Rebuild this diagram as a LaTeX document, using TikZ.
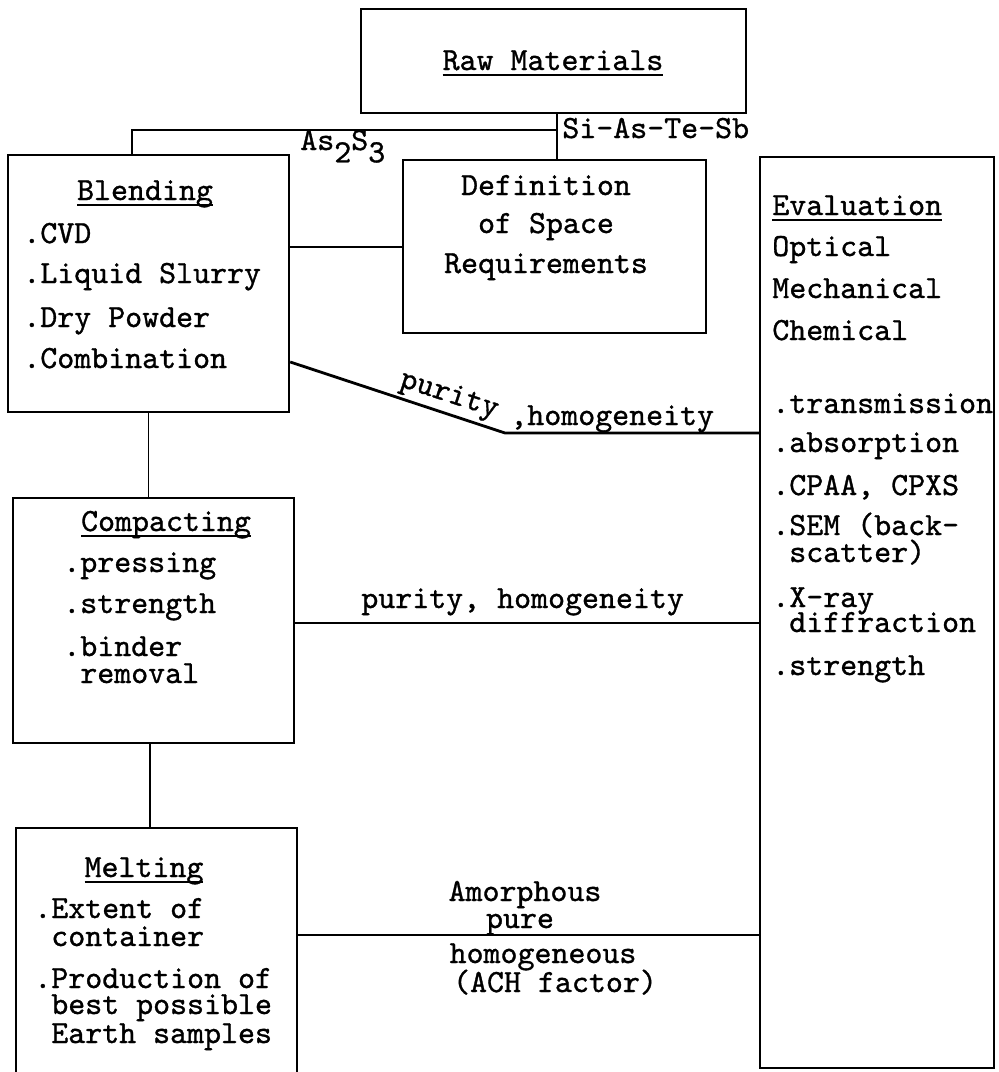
\documentclass[tikz,border=0pt]{standalone}
\usepackage{fontspec}
\newfontfamily\typewr[FakeBold=1]{lmmono10-regular.otf}
\usetikzlibrary{fit,calc}
% underlined heading, rule drawn just below the baseline
\newcommand\headul[1]{\setbox0=\hbox{#1}\rlap{\rule[-3.3pt]{\wd0}{0.9pt}}\box0}
\tikzset{
  box/.style  = {draw, line width=1.4pt, inner sep=0pt},
  wire/.style = {line width=1.1pt},
  item/.style = {anchor=base west, inner sep=0pt},
  head/.style = {anchor=base, inner sep=0pt},
}

\begin{document}
\begin{tikzpicture}[x=0.2mm,y=-0.2mm,font=\typewr\fontsize{18.4pt}{22pt}\selectfont]
  \clip (0,0) rectangle (999,1072);
  % boxes
  \node[box, fit={(361,9) (746,113)}]   (raw)   {};
  \node[box, fit={(8,155) (289,412)}]   (blend) {};
  \node[box, fit={(403,160) (706,333)}] (defn)  {};
  \node[box, fit={(760,157) (994,1068)}] (eval) {};
  \node[box, fit={(13,498) (294,743)}]  (comp)  {};
  \node[box, fit={(16,828) (297,1100)}] (melt)  {};

  % connectors
  \coordinate (hub)  at (557,130);
  \coordinate (hubw) at (132,130);
  \coordinate (bend) at (505,433);
  \coordinate (yd)   at (0,247);
  \coordinate (yp)   at (0,362);
  \coordinate (yc)   at (0,623);
  \coordinate (ym)   at (0,935);
  \coordinate (xc)   at (150,0);
  \draw[wire] (raw.south -| hub) -- (defn.north -| hub);
  \draw[wire] (hub) -- (hubw) -- (hubw |- blend.north);
  \draw[wire] (blend.east |- yd) -- (defn.west |- yd);
  \draw[wire,line width=1.6pt] (blend.east |- yp) -- (bend) -- (bend -| eval.west);
  \draw[wire] (blend.south) -- (blend.south |- comp.north);
  \draw[wire] (comp.east |- yc) -- (eval.west |- yc);
  \draw[wire] (comp.south -| xc) -- (melt.north -| xc);
  \draw[wire] (melt.east |- ym) -- (eval.west |- ym);

  % raw materials
  \node[head] (rawt) at (553,70) {\headul{Raw Materials}};
  \node[item] (si) at (562,138) {Si-As-Te-Sb};
  \node[item] (as) at (300,150) {As\raisebox{-7pt}{2}S\raisebox{-7pt}{3}};

  % blending
  \node[head] (blendt) at (145,200) {\headul{Blending}};
  \node[item] (b1) at (23,243) {.CVD};
  \node[item] (b2) at (23,283) {.Liquid Slurry};
  \node[item] (b3) at (23,327) {.Dry Powder};
  \node[item] (b4) at (23,368) {.Combination};

  % definition
  \node[head] (d1) at (546,195) {Definition};
  \node[head] (d2) at (546,233) {of Space};
  \node[head] (d3) at (546,273) {Requirements};

  % evaluation
  \node[item] (evalt) at (772,215) {\headul{Evaluation}};
  \node[item] (e1) at (772,256) {Optical};
  \node[item] (e2) at (772,298) {Mechanical};
  \node[item] (e3) at (772,340) {Chemical};
  \node[item] (e4) at (772,413) {.transmission};
  \node[item] (e5) at (772,452) {.absorption};
  \node[item] (e6) at (772,495) {.CPAA, CPXS};
  \node[item] (e7) at (772,535) {.SEM (back-};
  \node[item] (e8) at (772,562) {\hphantom{.}scatter)};
  \node[item] (e9) at (772,607) {.X-ray};
  \node[item] (e10) at (772,632) {\hphantom{.}diffraction};
  \node[item] (e11) at (772,675) {.strength};

  % compacting
  \node[head] (compt) at (166,531) {\headul{Compacting}};
  \node[item] (c1) at (63,572) {.pressing};
  \node[item] (c2) at (63,613) {.strength};
  \node[item] (c3) at (63,656) {.binder};
  \node[item] (c4) at (63,683) {\hphantom{.}removal};

  % melting
  \node[head] (meltt) at (144,877) {\headul{Melting}};
  \node[item] (m1) at (34,918) {.Extent of};
  \node[item] (m2) at (34,946) {\hphantom{.}container};
  \node[item] (m3) at (34,988) {.Production of};
  \node[item] (m4) at (34,1014) {\hphantom{.}best possible};
  \node[item] (m5) at (34,1043) {\hphantom{.}Earth samples};

  % labels on the connectors
  \node[inner sep=0pt,rotate=-18] (pur) at (449,396) {purity};
  \node[item] (hom) at (510,425) {,homogeneity};
  \node[item] (ph) at (361,608) {purity, homogeneity};
  \node[head] (l1) at (525,901) {Amorphous};
  \node[head] (l2) at (520,928) {pure};
  \node[head] (l3) at (543,963) {homogeneous};
  \node[head] (l4) at (555,992) {(ACH factor)};
\end{tikzpicture}
\end{document}
